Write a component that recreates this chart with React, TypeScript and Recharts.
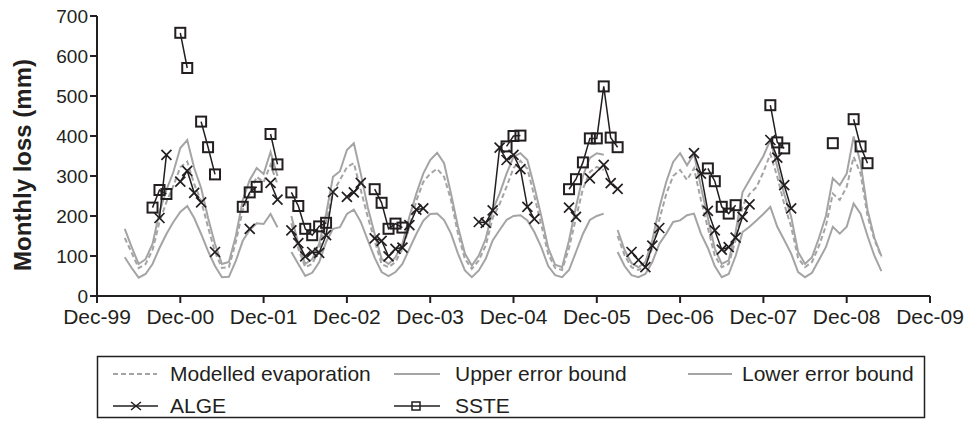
import React from 'react'
import {LineChart, Line, XAxis, YAxis, Label} from 'recharts'

// months counted from Dec-99 (0) to Dec-09 (120)
const yearTicks = [0, 12, 24, 36, 48, 60, 72, 84, 96, 108, 120]
const yearLabels = ['Dec-99', 'Dec-00', 'Dec-01', 'Dec-02', 'Dec-03', 'Dec-04', 'Dec-05', 'Dec-06', 'Dec-07', 'Dec-08', 'Dec-09']
const yTicks = [0, 100, 200, 300, 400, 500, 600, 700]

// modelled series, monthly from Apr-00 (month 4) to Apr-09 (month 113)
const boundStart = 4
const upperBound = [
  168, 122, 80, 92, 130, 210, 265, 310, 370, 390,
  320, 270, 195, 130, 80, 85, 150, 240, 290, 320,
  305, 360, 300, null, 200, 130, 80, 92, 130, 205,
  298, 312, 365, 382, 306, 222, 155, 93, 80, 97,
  131, 198, 256, 306, 340, 358, 332, 256, 173, 106,
  76, 101, 143, 215, 256, 306, 348, 357, 340, 273,
  200, 120, 78, 72, 139, 223, 300, 345, 357, 353,
  null, 165, 115, 82, 72, 85, 140, 220, 285, 335,
  357, 327, 355, 273, 195, 118, 80, 89, 160, 260,
  290, 320, 350, 390, 323, 255, 198, 110, 80, 97,
  145, 200, 294, 277, 306, 399, 332, 215, 145, 100,
]
const modelled = [
  145, 108, 70, 80, 115, 185, 235, 275, 322, 336,
  280, 238, 172, 110, 70, 72, 135, 215, 255, 298,
  285, 328, 280, null, 182, 118, 72, 80, 116, 185,
  260, 290, 322, 332, 265, 198, 138, 80, 72, 85,
  118, 173, 238, 285, 306, 318, 298, 240, 156, 93,
  68, 89, 126, 195, 230, 273, 320, 338, 318, 250,
  178, 105, 70, 65, 120, 195, 268, 310, 323, 315,
  null, 150, 102, 72, 65, 75, 120, 190, 255, 300,
  315, 290, 319, 240, 170, 100, 72, 80, 140, 225,
  255, 272, 310, 355, 298, 230, 173, 95, 72, 85,
  125, 175, 256, 240, 273, 348, 306, 200, 140, 97,
]
const lowerBound = [
  97, 70, 46, 55, 80, 120, 155, 185, 210, 225,
  195, 155, 112, 75, 47, 48, 88, 138, 165, 182,
  180, 205, 172, null, 110, 80, 50, 58, 84, 135,
  168, 172, 205, 216, 185, 140, 96, 60, 50, 60,
  80, 118, 155, 188, 205, 206, 190, 156, 106, 64,
  47, 64, 93, 139, 165, 190, 200, 202, 189, 160,
  122, 75, 52, 47, 65, 110, 155, 190, 200, 206,
  null, 110, 75, 52, 47, 55, 85, 130, 156, 185,
  189, 202, 206, 156, 120, 75, 47, 55, 100, 160,
  173, 189, 205, 223, 173, 140, 106, 60, 47, 58,
  90, 122, 173, 156, 173, 231, 206, 150, 100, 62,
]

// observed series; a null value breaks the line
const algeMonths = [
  9, 10, 11, 12, 13, 14, 15, 16, 17, 18, 22, 23, 25, 26, 27,
  28, 29, 30, 31, 32, 33, 34, 35, 36, 37, 38, 39,
  40, 41, 42, 43, 44, 45, 46, 47, 48,
  55, 56, 57, 58, 59, 60, 61, 62, 63, 64,
  68, 69, 70, 71, 73, 74, 75, 76,
  77, 78, 79, 80, 81, 82,
  86, 87, 88, 89, 90, 91, 92, 93, 94, 95,
  97, 98, 99, 100,
]
const algeValues = [
  195, 353, null, 286, 313, 258, 234, null, 110, null, 168, null, 283, 241, null,
  164, 132, 99, 110, 108, 152, 260, null, 248, 259, 283, null,
  144, 138, 99, 118, 121, 177, 216, 219, null,
  185, 183, 214, 371, 340, 353, 317, 223, 193, null,
  221, 198, null, 294, 328, 282, 268, null,
  110, 90, 72, 126, 170, null,
  357, 306, 213, 164, 116, 122, 146, 198, 229, null,
  390, 346, 277, 219,
]
const ssteMonths = [
  8, 9, 10, 11, 12, 13, 14, 15, 16, 17, 18,
  21, 22, 23, 24, 25, 26, 27, 28, 29, 30, 31, 32, 33, 34,
  40, 41, 42, 43, 44, 45,
  59, 60, 61, 62,
  68, 69, 70, 71, 72, 73, 74, 75, 76,
  88, 89, 90, 91, 92, 93,
  97, 98, 99, 100,
  106, 107, 109, 110, 111,
]
const ssteValues = [
  221, 265, 255, null, 658, 570, null, 436, 372, 304, null,
  223, 259, 273, null, 405, 329, null, 259, 225, 168, 152, 174, 183, null,
  267, 233, 168, 181, 171, null,
  374, 400, 401, null,
  267, 292, 334, 394, 394, 524, 396, 372, null,
  319, 287, 223, 206, 227, null,
  477, 384, 369, null,
  382, null, 442, 374, 332,
]

const INK = '#231f20'
const GREY = '#a4a4a4'
const FONT = '"Liberation Sans", Arial, sans-serif'

const boundRows = upperBound.map((u, i) => ({
  m: boundStart + i, upper: u, modelled: modelled[i], lower: lowerBound[i],
}))
const algeRows = algeMonths.map((m, i) => ({m, v: algeValues[i]}))
const ssteRows = ssteMonths.map((m, i) => ({m, v: ssteValues[i]}))

const CrossDot = (p: any) => {
  const {cx, cy, index, payload} = p
  if (cx == null || cy == null || payload?.v == null) return <g key={'c' + index} />
  return (
    <path key={'c' + index} d={`M${cx - 5},${cy - 5}L${cx + 5},${cy + 5}M${cx + 5},${cy - 5}L${cx - 5},${cy + 5}`}
      stroke={INK} strokeWidth={1.7} fill="none" />
  )
}

const SquareDot = (p: any) => {
  const {cx, cy, index, payload} = p
  if (cx == null || cy == null || payload?.v == null) return <g key={'s' + index} />
  return <rect key={'s' + index} x={cx - 5} y={cy - 5} width={10} height={10} stroke={INK} strokeWidth={2} fill="none" />
}

const YTitle = ({viewBox}: any) => {
  const x = viewBox.x + 22
  const y = viewBox.y + viewBox.height / 2 + 9
  return (
    <text x={x} y={y} transform={`rotate(-90 ${x} ${y})`} textAnchor="middle" dominantBaseline="central"
      fontFamily={FONT} fontWeight="bold" fontSize={24} fill={INK}>Monthly loss (mm)</text>
  )
}

function LegendBox(){
  const r1 = 34, r2 = 66
  const txt = {fontFamily: FONT, fontSize: 21, fill: INK}
  return (
    <svg width={967} height={84} style={{position: 'absolute', left: 0, top: 340}}>
      <rect x={97.5} y={16.5} width={827} height={61} fill="none" stroke={INK} strokeWidth={1.5} />
      <line x1={113} x2={157} y1={r1} y2={r1} stroke={GREY} strokeWidth={2} strokeDasharray="5 3" />
      <text x={170} y={r1 + 7} {...txt}>Modelled evaporation</text>
      <line x1={394} x2={440} y1={r1} y2={r1} stroke={GREY} strokeWidth={2} />
      <text x={455} y={r1 + 7} {...txt}>Upper error bound</text>
      <line x1={688} x2={732} y1={r1} y2={r1} stroke={GREY} strokeWidth={2} />
      <text x={742} y={r1 + 7} {...txt}>Lower error bound</text>
      <line x1={113} x2={158} y1={r2} y2={r2} stroke={INK} strokeWidth={1.7} />
      <path d={`M${131},${r2 - 4}L${141},${r2 + 4}M${141},${r2 - 4}L${131},${r2 + 4}`} stroke={INK} strokeWidth={1.5} />
      <text x={170} y={r2 + 7} {...txt}>ALGE</text>
      <line x1={394} x2={440} y1={r2} y2={r2} stroke={INK} strokeWidth={1.7} />
      <rect x={412} y={r2 - 4} width={8} height={8} fill="none" stroke={INK} strokeWidth={1.5} />
      <text x={455} y={r2 + 7} {...txt}>SSTE</text>
    </svg>
  )
}

export default function App(){
  const xTick = {fontFamily: FONT, fontSize: 21, fill: INK}
  const yTick = {fontFamily: FONT, fontSize: 19, fill: INK}
  return (
    <div style={{position: 'absolute', left: 0, top: 0, width: 967, height: 424, background: '#fff'}}>
      <LineChart width={967} height={330} data={boundRows} margin={{top: 16, right: 37, bottom: 0, left: 0}}>
        <XAxis type="number" dataKey="m" domain={[0, 120]} ticks={yearTicks} interval={0} height={34}
          tickFormatter={(v: number) => yearLabels[yearTicks.indexOf(v)]} tick={xTick} tickSize={7} tickMargin={6}
          axisLine={{stroke: INK, strokeWidth: 2}} tickLine={{stroke: INK, strokeWidth: 2}} />
        <YAxis type="number" domain={[0, 700]} ticks={yTicks} interval={0} width={97} tick={yTick} tickSize={7}
          axisLine={{stroke: INK, strokeWidth: 2}} tickLine={{stroke: INK, strokeWidth: 2}}>
          <Label content={<YTitle />} />
        </YAxis>
        <Line dataKey="upper" stroke={GREY} strokeWidth={2} dot={false} activeDot={false} isAnimationActive={false} />
        <Line dataKey="lower" stroke={GREY} strokeWidth={2} dot={false} activeDot={false} isAnimationActive={false} />
        <Line dataKey="modelled" stroke={GREY} strokeWidth={2} strokeDasharray="5 3" dot={false} activeDot={false} isAnimationActive={false} />
        <Line data={algeRows} dataKey="v" stroke={INK} strokeWidth={1.5} dot={<CrossDot />} activeDot={false} isAnimationActive={false} />
        <Line data={ssteRows} dataKey="v" stroke={INK} strokeWidth={1.5} dot={<SquareDot />} activeDot={false} isAnimationActive={false} />
      </LineChart>
      <LegendBox />
    </div>
  )
}
